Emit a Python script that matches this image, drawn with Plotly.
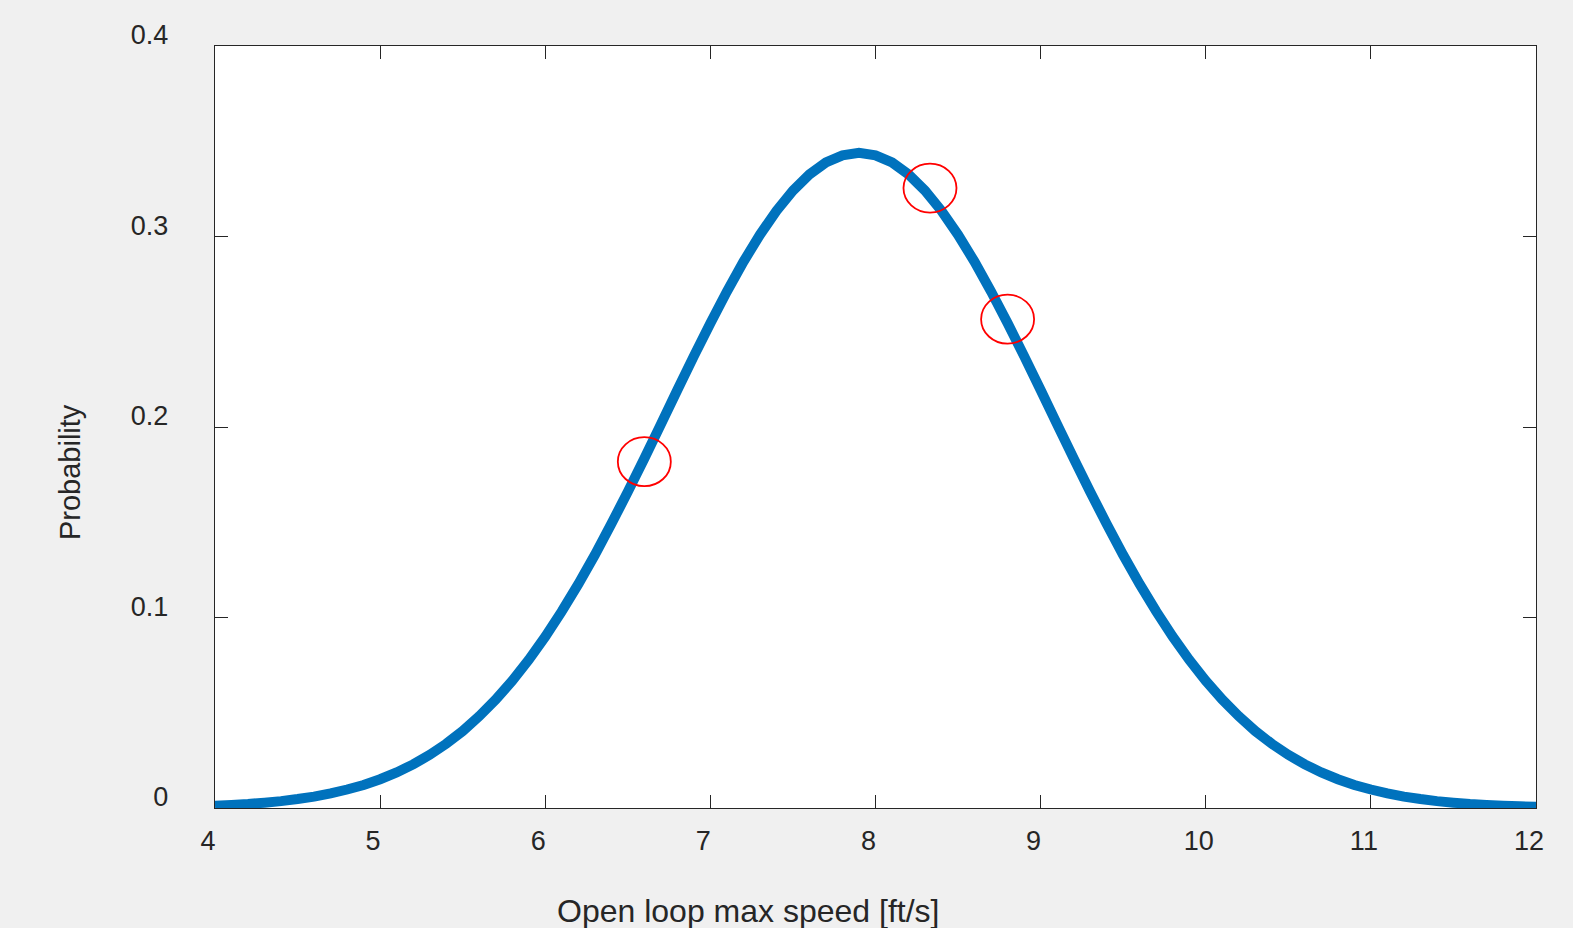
import plotly.graph_objects as go

# ---- data ----
speed = [4.0, 4.1, 4.2, 4.3, 4.4, 4.5, 4.6, 4.7, 4.8, 4.9,
         5.0, 5.1, 5.2, 5.3, 5.4, 5.5, 5.6, 5.7, 5.8, 5.9,
         6.0, 6.1, 6.2, 6.3, 6.4, 6.5, 6.6, 6.7, 6.8, 6.9,
         7.0, 7.1, 7.2, 7.3, 7.4, 7.5, 7.6, 7.7, 7.8, 7.9,
         8.0, 8.1, 8.2, 8.3, 8.4, 8.5, 8.6, 8.7, 8.8, 8.9,
         9.0, 9.1, 9.2, 9.3, 9.4, 9.5, 9.6, 9.7, 9.8, 9.9,
         10.0, 10.1, 10.2, 10.3, 10.4, 10.5, 10.6, 10.7, 10.8, 10.9,
         11.0, 11.1, 11.2, 11.3, 11.4, 11.5, 11.6, 11.7, 11.8, 11.9, 12.0]
probability = [0.0012, 0.0016, 0.0021, 0.0028, 0.0036, 0.0047, 0.0060, 0.0077, 0.0097, 0.0121,
               0.0151, 0.0187, 0.0229, 0.0279, 0.0337, 0.0404, 0.0482, 0.0569, 0.0668, 0.0778,
               0.0899, 0.1032, 0.1175, 0.1328, 0.1491, 0.1660, 0.1835, 0.2014, 0.2194, 0.2372,
               0.2545, 0.2711, 0.2867, 0.3009, 0.3134, 0.3241, 0.3326, 0.3389, 0.3426, 0.3439,
               0.3426, 0.3389, 0.3326, 0.3241, 0.3134, 0.3009, 0.2867, 0.2711, 0.2545, 0.2372,
               0.2194, 0.2014, 0.1835, 0.1660, 0.1491, 0.1328, 0.1175, 0.1032, 0.0899, 0.0778,
               0.0668, 0.0569, 0.0482, 0.0404, 0.0337, 0.0279, 0.0229, 0.0187, 0.0151, 0.0121,
               0.0097, 0.0077, 0.0060, 0.0047, 0.0036, 0.0028, 0.0021, 0.0016, 0.0012, 0.0009, 0.0007]

# highlighted points (red ellipses)
mark_x = [6.60, 8.33, 8.80]
mark_y = [0.1818, 0.3254, 0.2566]

x_ticks = [4, 5, 6, 7, 8, 9, 10, 11, 12]
x_tick_labels = ["4", "5", "6", "7", "8", "9", "10", "11", "12"]
y_ticks = [0, 0.1, 0.2, 0.3, 0.4]
y_tick_labels = ["0", "0.1", "0.2", "0.3", "0.4"]

x_title = "Open loop max speed [ft/s]"
y_title = "Probability"

# ---- styles ----
TEXT = "#262626"
FONT = "Liberation Sans, Arial, sans-serif"

fig = go.Figure()
fig.add_trace(go.Scatter(
    x=speed, y=probability, mode="lines",
    line=dict(color="#0072BD", width=10, simplify=False),
    hoverinfo="x+y", showlegend=False,
))

shapes = []
for mx, my in zip(mark_x, mark_y):
    shapes.append(dict(
        type="circle", xref="x", yref="y",
        xsizemode="pixel", ysizemode="pixel",
        xanchor=mx, yanchor=my,
        x0=-26.5, x1=26.5, y0=-24.5, y1=24.5,
        line=dict(color="#FF0000", width=1.8),
        fillcolor="rgba(0,0,0,0)", layer="above",
    ))

axis_common = dict(
    showline=True, linecolor=TEXT, linewidth=1.4, mirror="ticks",
    ticks="inside", ticklen=13, tickwidth=1.4, tickcolor=TEXT,
    showgrid=False, zeroline=False,
    tickfont=dict(family=FONT, size=27, color=TEXT),
)

fig.update_layout(
    width=1573, height=928,
    paper_bgcolor="#F0F0F0", plot_bgcolor="#FFFFFF",
    margin=dict(l=215, r=37, t=46, b=120, pad=0),
    font=dict(family=FONT, color=TEXT),
    xaxis=dict(range=[4, 12], tickvals=x_ticks, ticktext=x_tick_labels,
               ticklabelshift=-7, ticklabelstandoff=8, **axis_common),
    yaxis=dict(range=[0, 0.4], tickvals=y_ticks, ticktext=y_tick_labels,
               ticklabelshift=-11, ticklabelstandoff=40, **axis_common),
    shapes=shapes,
    annotations=[
        dict(text=x_title, xref="paper", yref="paper", x=0.4035, y=-0.1357,
             xanchor="center", yanchor="middle", showarrow=False,
             font=dict(family=FONT, size=32, color=TEXT)),
        dict(text=y_title, xref="paper", yref="paper", x=-0.1098, y=0.4408,
             xanchor="center", yanchor="middle", showarrow=False, textangle=-90,
             font=dict(family=FONT, size=29, color=TEXT)),
    ],
)

fig.write_html("out.html")
